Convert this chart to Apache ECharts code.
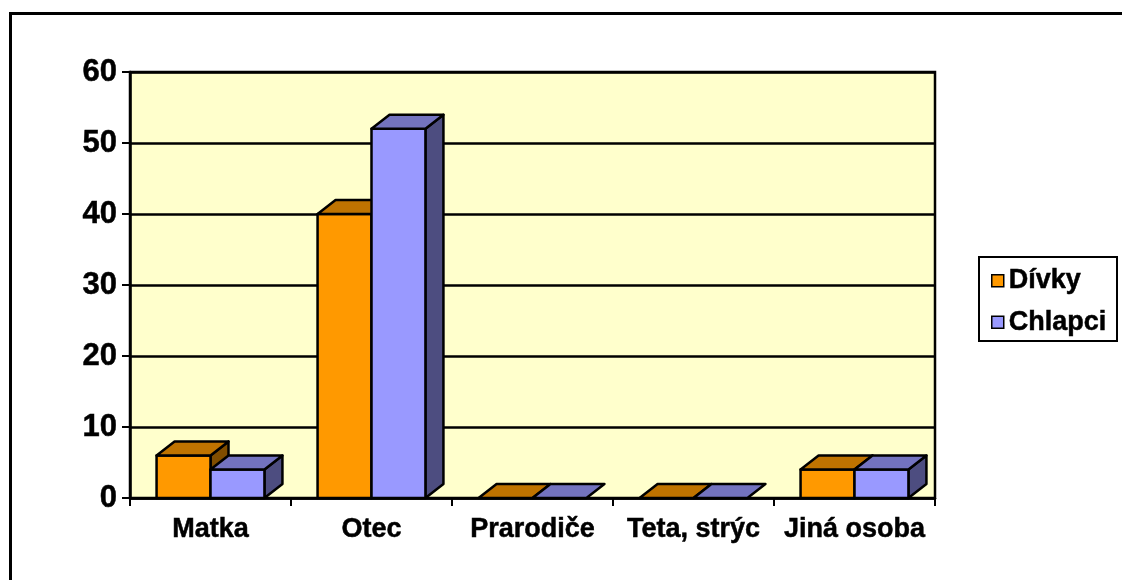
<!DOCTYPE html>
<html>
<head>
<meta charset="utf-8">
<script src="https://cdn.jsdelivr.net/npm/echarts@6/dist/echarts.min.js"></script>
<style>
html,body{margin:0;padding:0;background:#fff;}
#chart{width:1122px;height:580px;}
</style>
</head>
<body>
<div id="chart"></div>
<script>
const categories = ['Matka', 'Otec', 'Prarodiče', 'Teta, strýc', 'Jiná osoba'];
const divky = [6, 40, 0, 0, 4];
const chlapci = [4, 52, 0, 0, 4];
const seriesNames = ['Dívky', 'Chlapci'];
const yMin = 0, yMax = 60, yInterval = 10;

const FONT = 'Liberation Sans, Arial, sans-serif';
const palette = [
  { front: '#FF9900', top: '#BF7300', side: '#804D00' },
  { front: '#9999FF', top: '#7373BF', side: '#4D4D80' }
];
const DX = 18, DY = 14;

function makeRender(sideIdx) {
  return function (params, api) {
    const idx = api.value(0);
    const val = api.value(1);
    const topPt = api.coord([idx, val]);
    const basePt = api.coord([idx, 0]);
    const catW = api.size([1, 0])[0];
    const bw = catW * 0.335;
    const x0 = sideIdx === 0 ? topPt[0] - bw : topPt[0];
    const x1 = x0 + bw;
    const yt = topPt[1], yb = basePt[1];
    const c = palette[sideIdx];
    const stroke = { stroke: '#000', lineWidth: 2.5, lineJoin: 'round' };
    const children = [];
    if (yb - yt > 0.5) {
      children.push({
        type: 'polygon',
        shape: { points: [[x1, yt], [x1 + DX, yt - DY], [x1 + DX, yb - DY], [x1, yb]] },
        style: Object.assign({ fill: c.side }, stroke)
      });
      children.push({
        type: 'rect',
        shape: { x: x0, y: yt, width: bw, height: yb - yt },
        style: Object.assign({ fill: c.front }, stroke)
      });
    }
    children.push({
      type: 'polygon',
      shape: { points: [[x0, yt], [x0 + DX, yt - DY], [x1 + DX, yt - DY], [x1, yt]] },
      style: Object.assign({ fill: c.top }, stroke)
    });
    return { type: 'group', children: children };
  };
}

const boldText = { fontFamily: FONT, fontWeight: 'bold', color: '#000', textBorderColor: '#000', textBorderWidth: 0.5 };

const chart = echarts.init(document.getElementById('chart'), null, { renderer: 'canvas' });
chart.setOption({
  animation: false,
  backgroundColor: '#fff',
  grid: {
    left: 130, right: 187, top: 72, bottom: 82,
    show: true, backgroundColor: '#FFFFCC', borderColor: '#000', borderWidth: 2.5
  },
  legend: {
    orient: 'vertical',
    left: 986, top: 262,
    itemWidth: 12, itemHeight: 12, itemGap: 14,
    icon: 'rect',
    textStyle: Object.assign({ fontSize: 27, lineHeight: 27 }, boldText),
    data: seriesNames.map((n, i) => ({
      name: n,
      itemStyle: { color: palette[i].front, borderColor: '#000', borderWidth: 1.5 }
    }))
  },
  xAxis: {
    type: 'category',
    data: categories,
    boundaryGap: true,
    axisLine: { lineStyle: { color: '#000', width: 2.5 } },
    axisTick: { show: true, interval: 0, length: 8, lineStyle: { color: '#000', width: 2 } },
    axisLabel: Object.assign({ interval: 0, fontSize: 27, margin: 18 }, boldText),
    splitLine: { show: false }
  },
  yAxis: {
    type: 'value',
    min: yMin, max: yMax, interval: yInterval,
    axisLine: { show: true, lineStyle: { color: '#000', width: 2.5 } },
    axisTick: { show: true, length: 8, lineStyle: { color: '#000', width: 2 } },
    axisLabel: Object.assign({ fontSize: 31, margin: 13 }, boldText),
    splitLine: { show: true, lineStyle: { color: '#000', width: 2.5 } }
  },
  series: [divky, chlapci].map((vals, si) => ({
    name: seriesNames[si],
    type: 'custom',
    clip: false,
    itemStyle: { color: palette[si].front },
    renderItem: makeRender(si),
    encode: { x: 0, y: 1 },
    data: vals.map((v, i) => [i, v])
  })),
  graphic: [
    {
      type: 'rect', silent: true, z: 100,
      shape: { x: 10.5, y: 13.5, width: 1300, height: 800 },
      style: { fill: 'none', stroke: '#000', lineWidth: 3 }
    },
    {
      type: 'rect', silent: true, z: 100,
      shape: { x: 979, y: 257, width: 138, height: 84 },
      style: { fill: 'none', stroke: '#000', lineWidth: 2 }
    }
  ]
});
</script>
</body>
</html>
